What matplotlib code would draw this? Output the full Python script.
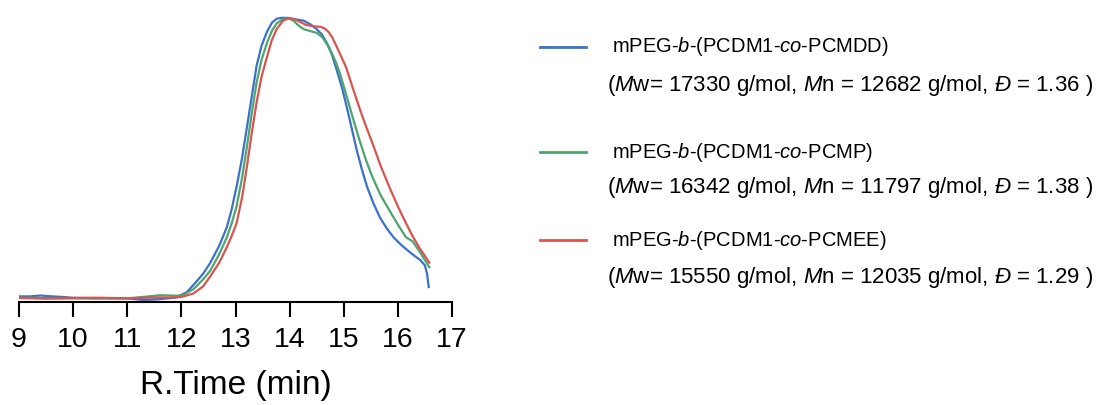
import matplotlib.pyplot as plt

# GPC traces (normalised intensity vs retention time)
t_mdd = [9.0, 9.2, 9.4, 9.6, 9.8, 10.0, 10.5, 11.0, 11.3, 11.6, 11.9, 12.1, 12.22, 12.4, 12.53,
         12.7, 12.84, 12.93, 13.02, 13.12, 13.21, 13.3, 13.39, 13.48, 13.58, 13.67, 13.76, 13.85,
         13.95, 14.1, 14.26, 14.4, 14.5, 14.6, 14.69, 14.78, 14.87, 14.97, 15.06, 15.15, 15.24,
         15.33, 15.43, 15.55, 15.67, 15.8, 15.92, 16.05, 16.17, 16.3, 16.41, 16.5, 16.54, 16.57]
i_mdd = [0.01, 0.01, 0.013, 0.01, 0.008, 0.005, 0.004, 0.003, -0.003, 0.0, 0.006, 0.025, 0.05,
         0.09, 0.128, 0.19, 0.256, 0.32, 0.40, 0.50, 0.61, 0.72, 0.83, 0.90, 0.95, 0.982, 0.997,
         1.0, 1.0, 0.995, 0.99, 0.975, 0.96, 0.94, 0.91, 0.87, 0.815, 0.75, 0.68, 0.605, 0.53,
         0.465, 0.40, 0.34, 0.29, 0.25, 0.22, 0.195, 0.175, 0.155, 0.14, 0.12, 0.09, 0.043]

t_mp = [9.0, 9.4, 10.0, 10.5, 11.0, 11.4, 11.6, 11.8, 12.0, 12.22, 12.4, 12.53, 12.7, 12.84,
        12.93, 13.02, 13.12, 13.21, 13.3, 13.39, 13.48, 13.58, 13.67, 13.76, 13.87, 13.97, 14.07,
        14.17, 14.26, 14.4, 14.5, 14.61, 14.73, 14.86, 14.95, 15.04, 15.16, 15.29, 15.41, 15.53,
        15.68, 15.84, 16.0, 16.15, 16.27, 16.4, 16.58]
i_mp = [0.005, 0.004, 0.003, 0.002, 0.003, 0.01, 0.014, 0.013, 0.012, 0.035, 0.07, 0.10, 0.16,
        0.22, 0.27, 0.33, 0.43, 0.54, 0.66, 0.77, 0.85, 0.91, 0.953, 0.98, 0.995, 1.0, 0.99,
        0.972, 0.96, 0.952, 0.947, 0.93, 0.895, 0.84, 0.79, 0.73, 0.65, 0.566, 0.495, 0.434,
        0.37, 0.317, 0.265, 0.22, 0.206, 0.17, 0.114]

t_mee = [9.0, 9.5, 10.0, 10.5, 11.0, 11.5, 11.8, 12.0, 12.22, 12.4, 12.53, 12.7, 12.84, 12.93,
         13.02, 13.12, 13.21, 13.3, 13.39, 13.48, 13.58, 13.67, 13.76, 13.88, 14.0, 14.15, 14.3,
         14.45, 14.58, 14.65, 14.72, 14.79, 14.9, 15.04, 15.16, 15.29, 15.41, 15.53, 15.68, 15.84,
         16.0, 16.15, 16.27, 16.39, 16.58]
i_mee = [0.004, 0.002, 0.004, 0.005, 0.003, 0.006, 0.006, 0.008, 0.02, 0.045, 0.08, 0.13, 0.185,
         0.225, 0.27, 0.36, 0.47, 0.59, 0.70, 0.79, 0.86, 0.92, 0.96, 0.99, 1.0, 0.99, 0.975,
         0.97, 0.968, 0.962, 0.95, 0.93, 0.885, 0.826, 0.755, 0.68, 0.615, 0.555, 0.475, 0.40,
         0.33, 0.27, 0.225, 0.185, 0.13]

names = ["mPEG-$b$-(PCDM1-$co$-PCMDD)",
         "mPEG-$b$-(PCDM1-$co$-PCMP)",
         "mPEG-$b$-(PCDM1-$co$-PCMEE)"]
infos = ["($M$w= 17330 g/mol, $M$n = 12682 g/mol, $\u0110$ = 1.36 )",
         "($M$w= 16342 g/mol, $M$n = 11797 g/mol, $\u0110$ = 1.38 )",
         "($M$w= 15550 g/mol, $M$n = 12035 g/mol, $\u0110$ = 1.29 )"]
colors = ["#3a72c8", "#4ea46f", "#d9534f"]

plt.rcParams["font.family"] = ["Liberation Sans", "DejaVu Sans"]
plt.rcParams["mathtext.fontset"] = "custom"
plt.rcParams["mathtext.rm"] = "Liberation Sans"
plt.rcParams["mathtext.it"] = "Liberation Sans:italic"

fig = plt.figure(figsize=(11.05, 4.05), dpi=100)
ax = fig.add_axes([19 / 1105, 103 / 405, 433 / 1105, 292 / 405])

for t, i, c in zip([t_mdd, t_mp, t_mee], [i_mdd, i_mp, i_mee], colors):
    ax.plot(t, i, color=c, lw=1.6)

ax.set_xlim(9, 17)
ax.set_ylim(-0.01, 1.028)
ax.set_xticks(range(9, 18))
ax.set_yticks([])
for s in ["left", "right", "top"]:
    ax.spines[s].set_visible(False)
ax.spines["bottom"].set_linewidth(1.5)
ax.tick_params(axis="x", direction="out", length=11, width=1.5, labelsize=20.5, pad=7)
ax.set_xlabel("R.Time (min)", fontsize=24, labelpad=12)

# legend drawn in pixel coordinates
lg = fig.add_axes([0, 0, 1, 1])
lg.set_xlim(0, 1105)
lg.set_ylim(405, 0)
lg.axis("off")
rows = [(47, 85), (152, 188), (240, 278)]
for (y1, y2), nm, inf, c in zip(rows, names, infos, colors):
    lg.plot([540, 586], [y1, y1], color=c, lw=2)
    lg.text(612, y1, nm, fontsize=14.5, va="center", ha="left")
    lg.text(607, y2, inf, fontsize=16, va="center", ha="left")

fig.savefig("out.png", dpi=100)
